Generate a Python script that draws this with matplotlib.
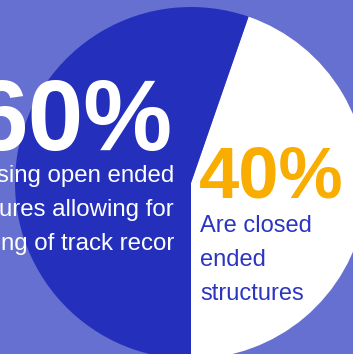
import matplotlib.pyplot as plt

plt.rcParams['font.family'] = ['Liberation Sans', 'DejaVu Sans']

# slice shares as drawn in the picture (white wedge first, then blue)
shares = [44.7, 55.3]
slice_colors = ['#ffffff', '#2430bb']
pct_labels = ['40%', '60%']
closed_lines = ['Are closed', 'ended', 'structures']
open_lines = ['sing open ended', 'ures allowing for', 'ng of track recor']

W, H = 353, 354
fig = plt.figure(figsize=(W / 100, H / 100), dpi=100)
fig.patch.set_facecolor('#6670d0')
ax = fig.add_axes([0, 0, 1, 1])

# pie centre and radius in pixel coords (y measured from bottom)
cx, cy, r = 191, H - 183, 176
ax.pie(shares, colors=slice_colors, startangle=-90, counterclock=True,
       center=(cx, cy), radius=r, frame=True,
       wedgeprops=dict(linewidth=0))
ax.set_xlim(0, W)
ax.set_ylim(0, H)
ax.set_aspect('equal')
ax.axis('off')

# 60% block (blue slice)
ax.text(172, H - 150, pct_labels[1], color='white', fontsize=72,
        fontweight='bold', ha='right', va='baseline')
for i, line in enumerate(open_lines):
    ax.text(174, H - (182 + 34 * i), line, color='white', fontsize=17.3,
            ha='right', va='baseline')

# 40% block (white slice)
ax.text(199, H - 198, pct_labels[0], color='#f9ad00', fontsize=52,
        fontweight='bold', ha='left', va='baseline')
for i, line in enumerate(closed_lines):
    ax.text(200, H - (232 + 34 * i), line, color='#2b35c0', fontsize=17,
            ha='left', va='baseline')

fig.savefig('out.png', dpi=100, facecolor=fig.get_facecolor())
